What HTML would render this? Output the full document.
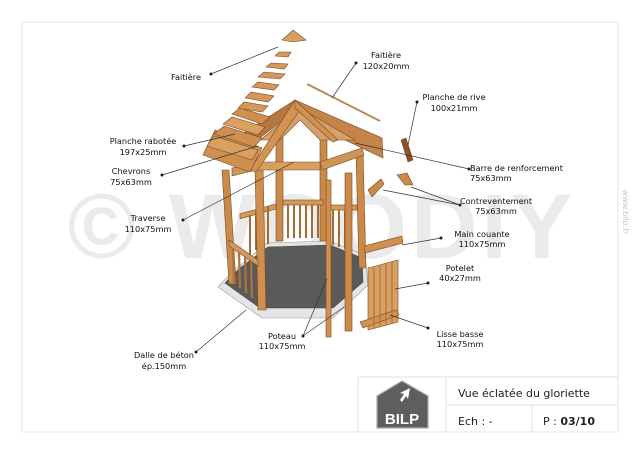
<!DOCTYPE html>
<html><head><meta charset="utf-8"><style>
html,body{margin:0;padding:0;background:#fff;}
svg{display:block;font-family:"DejaVu Sans","Liberation Sans",sans-serif;}
</style></head><body>
<svg width="640" height="453" viewBox="0 0 640 453" xmlns="http://www.w3.org/2000/svg">
<rect x="22" y="22" width="596" height="410" fill="#fff" stroke="#e6e6e6" stroke-width="1"/>
<!-- watermark -->
<text x="322" y="258" font-family="Liberation Sans,sans-serif" font-weight="bold" font-size="92" fill="#ebebeb" text-anchor="middle" letter-spacing="4">© WOODIY</text>
<text transform="translate(623,212) rotate(90)" font-size="8" fill="#c8c8c8" text-anchor="middle">www.bilp.fr</text>

<!-- slab -->
<polygon points="218,287 232,272 267,243 330,241 365,255 368,285 333,318 262,318" fill="#e4e4e4" stroke="#999" stroke-width="0.6"/>
<polygon points="225,283 240,268 268,247 330,245 362,258 363,282 333,308 260,308" fill="#5a5a5a" stroke="#444" stroke-width="0.6"/>

<g stroke="#7a4a22" stroke-width="0.6">
<!-- back posts -->
<rect x="276" y="138" width="7" height="103" fill="#c98a4a"/>
<rect x="320" y="138" width="7" height="103" fill="#c98a4a"/>
<!-- back railing -->
<rect x="283" y="200" width="40" height="5" fill="#d49858"/>
<rect x="240" y="212" width="36" height="5" fill="#d49858" transform="skewY(-15) translate(0,66)"/>
<rect x="327" y="205" width="30" height="5" fill="#d49858"/>
</g>
<g stroke="#a66a35" stroke-width="2">
<line x1="288" y1="205" x2="288" y2="238"/><line x1="294" y1="205" x2="294" y2="238"/><line x1="300" y1="205" x2="300" y2="238"/><line x1="306" y1="205" x2="306" y2="238"/><line x1="312" y1="205" x2="312" y2="238"/><line x1="318" y1="205" x2="318" y2="238"/>
<line x1="250" y1="215" x2="250" y2="255"/><line x1="256" y1="212" x2="256" y2="250"/><line x1="262" y1="209" x2="262" y2="247"/><line x1="268" y1="206" x2="268" y2="244"/>
<line x1="333" y1="210" x2="333" y2="245"/><line x1="339" y1="210" x2="339" y2="247"/><line x1="345" y1="211" x2="345" y2="249"/>
</g>
<g stroke="#7a4a22" stroke-width="0.6">
<!-- left & front posts -->
<polygon points="222,170 229,170 236,284 229,284" fill="#c98a4a"/>
<polygon points="255,166 263,166 266,310 258,310" fill="#d08f4e"/>
<polygon points="356,153 363,152 366,268 359,268" fill="#c98a4a"/>
<!-- front-left railing -->
<polygon points="229,240 258,260 258,266 229,246" fill="#d49858"/>
</g>
<g stroke="#b07238" stroke-width="2.2">
<line x1="233" y1="248" x2="234" y2="283"/><line x1="239" y1="252" x2="240" y2="288"/><line x1="245" y1="256" x2="246" y2="293"/><line x1="251" y1="260" x2="252" y2="298"/>
</g>
<g stroke="#7a4a22" stroke-width="0.6">
<!-- traverse -->
<polygon points="256,162 320,162 320,170 256,170" fill="#d8a060"/>
<polygon points="320,162 362,148 364,155 322,170" fill="#cf9455"/>
<polygon points="232,168 256,162 256,170 232,176" fill="#cf9455"/>
<!-- roof right -->
<polygon points="295,100 382,138 383,158 345,140 300,108" fill="#c4844a"/>
<polygon points="295,100 245,132 250,145 300,108" fill="#b57640"/>
<polygon points="300,108 355,140 320,140 300,120 280,140 260,140" fill="#d6a06a"/>
<!-- roof front-left gable -->
<polygon points="295,100 250,170 256,172 300,110" fill="#d39350"/>
<polygon points="295,100 338,140 333,142 295,108" fill="#d39350"/>
<!-- left roof planks -->
<polygon points="203,155 250,172 262,148 215,130" fill="#cf8f4f"/>
<polygon points="207,146 252,160 258,150 214,136" fill="#d9a060"/>
<polygon points="214,134 254,147 262,138 224,126" fill="#cf8f4f"/>
<polygon points="223,124 258,135 265,127 232,117" fill="#d9a060"/>
<polygon points="232,114 262,124 270,117 240,108" fill="#cf8f4f"/>
<!-- exploded shingles -->
<polygon points="238,108 262,112 268,106 244,102" fill="#d6985a"/>
<polygon points="245,98 268,102 274,96 251,92" fill="#d6985a"/>
<polygon points="252,87 274,90 279,85 258,82" fill="#d6985a"/>
<polygon points="258,77 280,79 285,74 264,72" fill="#d6985a"/>
<polygon points="266,67 284,69 288,64 271,63" fill="#d6985a"/>
<polygon points="275,56 288,57 291,52 279,52" fill="#d6985a"/>
<polygon points="282,40 293,30 306,40 293,42" fill="#d8a060"/>
<!-- ridge bar -->
<line x1="307" y1="84" x2="380" y2="121" stroke="#b98a55" stroke-width="2"/>
<!-- loose posts -->
<rect x="326" y="180" width="5" height="157" fill="#d08f4e"/>
<rect x="345" y="173" width="7" height="158" fill="#c98a4a"/>
<!-- parts right -->
<polygon points="401,140 406,138 413,160 408,162" fill="#8a5228"/>
<polygon points="368,190 381,179 384,184 372,197" fill="#c98a4a"/>
<polygon points="397,175 407,173 413,185 405,185" fill="#c98a4a"/>
<polygon points="364,246 402,236 403,243 365,253" fill="#d08f4e"/>
<polygon points="368,268 398,260 398,322 368,330" fill="#d8a060"/>
<polygon points="360,322 396,310 399,315 363,328" fill="#cf9455"/>
</g>
<g stroke="#a86a35" stroke-width="1">
<line x1="374" y1="268" x2="374" y2="328"/><line x1="380" y1="266" x2="380" y2="326"/><line x1="386" y1="264" x2="386" y2="325"/><line x1="392" y1="262" x2="392" y2="323"/>
</g>

<!-- leader lines -->
<g stroke="#333" stroke-width="0.7" fill="#111">
<line x1="211" y1="74" x2="278" y2="47"/><circle cx="211" cy="74" r="1.2"/>
<line x1="356" y1="63" x2="332" y2="98"/><circle cx="356" cy="63" r="1.2"/>
<line x1="417" y1="102" x2="408" y2="145"/><circle cx="417" cy="102" r="1.2"/>
<line x1="184" y1="146" x2="235" y2="134"/><circle cx="184" cy="146" r="1.2"/>
<line x1="162" y1="175" x2="258" y2="146"/><circle cx="162" cy="175" r="1.2"/>
<line x1="183" y1="220" x2="294" y2="162"/><circle cx="183" cy="220" r="1.2"/>
<line x1="469" y1="169" x2="355" y2="143"/><circle cx="469" cy="169" r="1.2"/>
<line x1="460" y1="205" x2="411" y2="187"/><line x1="460" y1="205" x2="383" y2="190"/><circle cx="460" cy="205" r="1.2"/>
<line x1="441" y1="238" x2="402" y2="245"/><circle cx="441" cy="238" r="1.2"/>
<line x1="428" y1="283" x2="395" y2="289"/><circle cx="428" cy="283" r="1.2"/>
<line x1="428" y1="328" x2="390" y2="315"/><circle cx="428" cy="328" r="1.2"/>
<line x1="303" y1="336" x2="327" y2="279"/><line x1="303" y1="336" x2="344" y2="307"/><circle cx="303" cy="336" r="1.2"/>
<line x1="196" y1="352" x2="246" y2="310"/><circle cx="196" cy="352" r="1.2"/>
</g>

<g font-size="8.2" fill="#111" text-anchor="middle">
<text x="186" y="80">Faitière</text>
<text x="386" y="58">Faitière</text><text x="386" y="69">120x20mm</text>
<text x="454" y="100">Planche de rive</text><text x="454" y="111">100x21mm</text>
<text x="143" y="144">Planche rabotée</text><text x="143" y="155">197x25mm</text>
<text x="131" y="174">Chevrons</text><text x="131" y="185">75x63mm</text>
<text x="148" y="221">Traverse</text><text x="148" y="232">110x75mm</text>
<text x="470" y="171" text-anchor="start">Barre de renforcement</text><text x="470" y="181" text-anchor="start">75x63mm</text>
<text x="496" y="204">Contreventement</text><text x="496" y="214">75x63mm</text>
<text x="482" y="237">Main couante</text><text x="482" y="247">110x75mm</text>
<text x="460" y="271">Potelet</text><text x="460" y="281">40x27mm</text>
<text x="460" y="337">Lisse basse</text><text x="460" y="347">110x75mm</text>
<text x="282" y="339">Poteau</text><text x="282" y="349">110x75mm</text>
<text x="164" y="358">Dalle de béton</text><text x="164" y="369">ép.150mm</text>
</g>

<!-- title block -->
<g stroke="#e0e0e0" stroke-width="1" fill="none">
<line x1="358" y1="377" x2="618" y2="377"/>
<line x1="358" y1="377" x2="358" y2="432"/>
<line x1="446" y1="377" x2="446" y2="432"/>
<line x1="446" y1="405" x2="618" y2="405"/>
<line x1="532" y1="405" x2="532" y2="432"/>
</g>
<polygon points="377,396 402,381 428,396 428,428 377,428" fill="#5e5e5e" stroke="#aaa" stroke-width="1.2"/>
<path d="M410,388 l-10,5 4,1 -4,6 2,2 4,-6 2,3z" fill="#fff"/>
<text x="402" y="424" font-family="Liberation Sans,sans-serif" font-weight="bold" font-size="15" fill="#fff" text-anchor="middle">BILP</text>
<text x="458" y="397" font-size="11" fill="#222">Vue éclatée du gloriette</text>
<text x="458" y="425" font-size="11" fill="#222">Ech :   -</text>
<text x="543" y="425" font-size="11" fill="#222">P : <tspan font-weight="bold">03/10</tspan></text>
</svg>
</body></html>
